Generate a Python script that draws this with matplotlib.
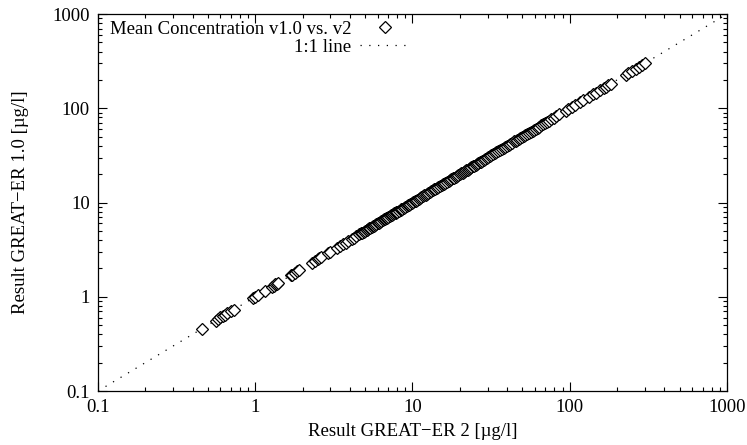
import numpy as np
import matplotlib
matplotlib.use("Agg")
import matplotlib.pyplot as plt
from matplotlib.ticker import LogLocator, FixedLocator, FixedFormatter, NullFormatter

# mean concentrations, GREAT-ER 2 (x) vs. GREAT-ER 1.0 (y), ug/l
conc_v2 = [0.46, 0.56, 0.58, 0.6, 0.62, 0.64, 0.66, 0.7, 0.73,
           0.97, 1.0, 1.04, 1.15, 1.28, 1.31, 1.34, 1.37, 1.4,
           1.68, 1.72, 1.78, 1.85, 1.9,
           2.3, 2.4, 2.5, 2.55, 2.62, 2.9, 3.0,
           3.3, 3.45, 3.6, 3.75, 3.9, 4.1, 4.25, 4.4,
           4.6, 4.7, 4.8, 4.9, 5.0, 5.1, 5.15, 5.2, 5.3, 5.4, 5.5, 5.6, 5.7, 5.8,
           5.9, 6.0, 6.1, 6.2, 6.35, 6.5, 6.6, 6.7, 6.8, 6.9, 7.0, 7.15, 7.3, 7.4,
           7.5, 7.65, 7.8, 7.9, 8.0, 8.2, 8.4, 8.5, 8.6, 8.8, 9.0, 9.2, 9.3, 9.5,
           9.7, 9.9, 10.1, 10.3, 10.5, 10.7, 11.0, 11.2, 11.4, 11.6, 11.9, 12.1,
           12.4, 12.6, 12.9, 13.2, 13.5, 13.8, 14.0, 14.3, 14.6, 15.0, 15.3, 15.6,
           15.9, 16.2, 16.6, 17.0, 17.3, 17.7, 18.0, 18.4, 18.8, 19.2, 19.6, 20.0,
           20.4, 20.8, 21.2, 21.6, 22.0, 22.4, 22.9, 23.3, 23.7, 24.2, 24.7, 25.2,
           25.7, 26.2, 26.7, 27.2, 27.8, 28.4, 29.0, 29.6, 30.3, 31.0, 31.8, 32.5,
           33.3, 34.2, 35.0, 36.0, 37.0, 38.0, 39.0, 40.0, 41.0, 42.0, 43.2, 44.5,
           45.5, 46.5, 47.5, 48.6, 49.8, 51.0, 52.2, 53.5, 55.0, 56.5, 58.0, 59.5,
           61.0, 62.5, 64.0, 66.0, 68.0, 70.0, 72.0, 74.0, 76.5, 79.0, 82.0, 86.0,
           94, 98, 104, 108, 116, 121, 132, 140, 146, 156, 165, 170, 176, 182,
           228, 236, 250, 262, 276, 290, 300]

conc_v1 = [0.46, 0.56, 0.58, 0.61, 0.62, 0.64, 0.67, 0.7, 0.73,
           0.97, 1.0, 1.05, 1.15, 1.28, 1.31, 1.35, 1.37, 1.4,
           1.69, 1.72, 1.78, 1.86, 1.9,
           2.3, 2.41, 2.5, 2.55, 2.63, 2.9, 3.0,
           3.3, 3.46, 3.6, 3.75, 3.92, 4.1, 4.25, 4.41,
           4.6, 4.71, 4.8, 4.9, 5.0, 5.11, 5.15, 5.2, 5.31, 5.4, 5.5, 5.62, 5.7, 5.8,
           5.91, 6.0, 6.1, 6.22, 6.35, 6.5, 6.61, 6.7, 6.8, 6.92, 7.0, 7.15, 7.32, 7.4,
           7.5, 7.66, 7.8, 7.9, 8.02, 8.2, 8.4, 8.52, 8.6, 8.8, 9.03, 9.2, 9.3, 9.52,
           9.7, 9.9, 10.1, 10.3, 10.5, 10.7, 11.0, 11.2, 11.4, 11.6, 11.9, 12.1,
           12.4, 12.6, 12.9, 13.2, 13.5, 13.8, 14.0, 14.3, 14.6, 15.0, 15.3, 15.6,
           15.9, 16.2, 16.6, 17.0, 17.3, 17.7, 18.0, 18.4, 18.8, 19.2, 19.6, 20.0,
           20.4, 20.8, 21.2, 21.6, 22.0, 22.4, 22.9, 23.3, 23.7, 24.2, 24.7, 25.2,
           25.7, 26.2, 26.7, 27.2, 27.8, 28.4, 29.0, 29.6, 30.3, 31.0, 31.8, 32.5,
           33.3, 34.2, 35.0, 36.0, 37.0, 38.0, 39.0, 40.0, 41.0, 42.0, 43.2, 44.5,
           45.5, 46.5, 47.5, 48.6, 49.8, 51.0, 52.2, 53.5, 55.0, 56.5, 58.0, 59.5,
           61.0, 62.5, 64.0, 66.0, 68.0, 70.0, 72.0, 74.0, 76.5, 79.0, 82.0, 86.0,
           94, 98, 104, 108, 116, 121, 132, 140, 146, 156, 165, 170, 176, 182,
           228, 236, 250, 262, 276, 290, 300]

line_pts = [0.1, 1000]
tick_vals = [0.1, 1, 10, 100, 1000]
tick_labels = ["0.1", "1", "10", "100", "1000"]

plt.rcParams['font.family'] = ['Liberation Serif', 'DejaVu Serif']
plt.rcParams['font.size'] = 13.5

fig = plt.figure(figsize=(7.47, 4.45), dpi=100)
ax = fig.add_axes([0.1312, 0.1213, 0.842, 0.8472])

ax.plot(conc_v2, conc_v1, linestyle='none', marker='D', markersize=6.3,
        markerfacecolor='white', markeredgecolor='black', markeredgewidth=0.9,
        label="Mean Concentration v1.0 vs. v2", zorder=3)
ax.plot(line_pts, line_pts, color='black', linewidth=0.9,
        linestyle=(0, (1, 6)), label="1:1 line", zorder=2)

ax.set_xscale('log')
ax.set_yscale('log')
ax.set_xlim(0.1, 1000)
ax.set_ylim(0.1, 1000)

for axis in (ax.xaxis, ax.yaxis):
    axis.set_major_locator(FixedLocator(tick_vals))
    axis.set_major_formatter(FixedFormatter(tick_labels))
    axis.set_minor_locator(LogLocator(base=10, subs=np.arange(2, 10)))
    axis.set_minor_formatter(NullFormatter())

ax.tick_params(which='both', direction='in', top=True, right=True, width=0.8)
ax.tick_params(which='major', length=6.5, pad=6)
ax.tick_params(which='minor', length=3.2)
for sp in ax.spines.values():
    sp.set_linewidth(0.9)

ax.set_xlabel("Result GREAT\u2212ER 2 [\u00b5g/l]", labelpad=5)
ax.set_ylabel("Result GREAT\u2212ER 1.0 [\u00b5g/l]", labelpad=17)

ax.legend(loc='upper left', bbox_to_anchor=(0.008, 1.0), frameon=False,
          markerfirst=False, handlelength=2.6, handletextpad=0.5,
          labelspacing=0.05, borderaxespad=0.05, borderpad=0.3)

fig.savefig("out.png", dpi=100)
